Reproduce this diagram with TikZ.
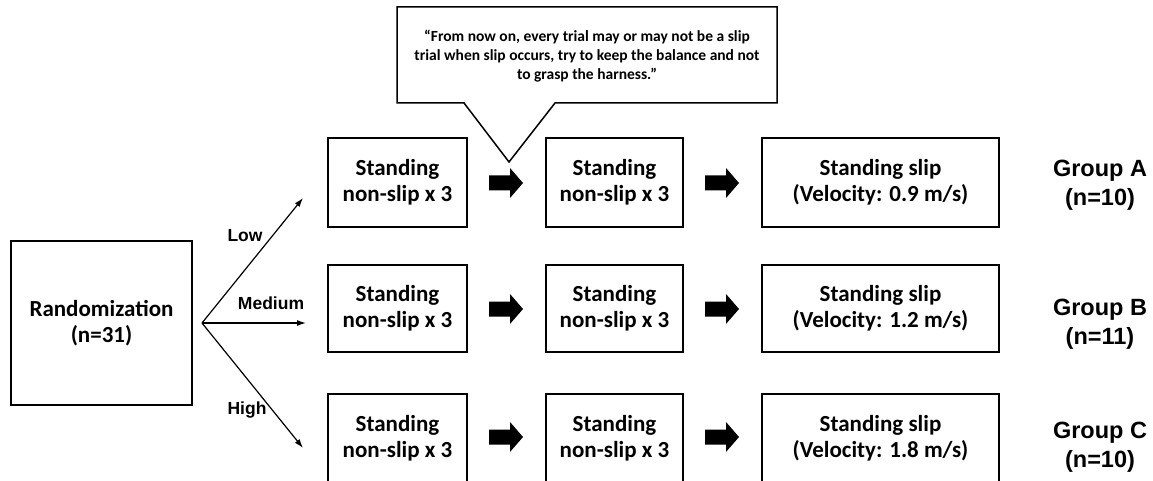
\documentclass[tikz,border=0pt]{standalone}
\usepackage{fontspec}
\setmainfont{Carlito}
\newfontfamily\arialfont{Liberation Sans}
\usetikzlibrary{arrows.meta}
\tikzset{
  box/.style={draw, line width=1.5pt, inner sep=0pt, align=center,
    font=\bfseries\fontsize{23}{26}\selectfont},
  lbl/.style={font=\arialfont\bfseries\fontsize{17.5}{20}\selectfont, inner sep=0pt},
  grp/.style={font=\arialfont\bfseries\fontsize{23.5}{29}\selectfont, align=center, inner sep=0pt},
  branch/.style={line width=1.2pt, -{Latex[length=9pt,width=6pt]}},
  barrow/.pic={\fill (-17,-7.5) -- (4,-7.5) -- (4,-15) -- (17,0) -- (4,15) -- (4,7.5) -- (-17,7.5) -- cycle;}
}
\begin{document}
\begin{tikzpicture}[x=1pt,y=-1pt]
\useasboundingbox (0,0) rectangle (1153,481);
% randomization
\node[box, minimum width=181pt, minimum height=164pt] (rand) at (101.5,323) {Randomization\\(n=31)};
\coordinate (bp) at (202,323);
\coordinate (eL) at (303,198);
\coordinate (eM) at (306,323);
\coordinate (eH) at (303,448);
\draw[branch] (bp) -- (eL);
\draw[branch] (bp) -- (eM);
\draw[branch] (bp) -- (eH);
\node[lbl] (low) at (245,236) {Low};
\node[lbl] (med) at (271,303) {Medium};
\node[lbl] (high) at (247,410) {High};
% column 1
\node[box, minimum width=139pt, minimum height=89pt] (a1) at (397.5,182.5) {Standing\\non-slip x 3};
\node[box, minimum width=139pt, minimum height=87pt] (b1) at (397.5,308.5) {Standing\\non-slip x 3};
\node[box, minimum width=139pt, minimum height=88pt] (c1) at (397.5,438) {Standing\\non-slip x 3};
% column 2
\node[box, minimum width=137pt, minimum height=89pt] (a2) at (614.5,182.5) {Standing\\non-slip x 3};
\node[box, minimum width=137pt, minimum height=87pt] (b2) at (614.5,308.5) {Standing\\non-slip x 3};
\node[box, minimum width=137pt, minimum height=88pt] (c2) at (614.5,438) {Standing\\non-slip x 3};
% column 3
\node[box, minimum width=237pt, minimum height=89pt] (a3) at (880.5,182.5) {Standing slip\\(Velocity: 0.9 m/s)};
\node[box, minimum width=237pt, minimum height=87pt] (b3) at (880.5,308.5) {Standing slip\\(Velocity: 1.2 m/s)};
\node[box, minimum width=237pt, minimum height=88pt] (c3) at (880.5,438) {Standing slip\\(Velocity: 1.8 m/s)};
% block arrows
\pic at (506,183) {barrow};
\pic at (722,183) {barrow};
\pic at (506,309) {barrow};
\pic at (722,309) {barrow};
\pic at (506,437) {barrow};
\pic at (722,437) {barrow};
% groups
\node[grp] (ga) at (1100,185) {Group A\\(n=10)};
\node[grp] (gb) at (1100,324) {Group B\\(n=11)};
\node[grp] (gc) at (1100,447.5) {Group C\\(n=10)};
% callout
\draw[line width=1.5pt, fill=white, line join=miter]
  (397,7) -- (777,7) -- (777,103) -- (555,103) -- (509,162) -- (464,103) -- (397,103) -- cycle;
\node[align=center, inner sep=0pt, font=\bfseries\fontsize{15.5}{19}\selectfont] (callout) at (587,56)
  {“From now on, every trial may or may not be a slip\\trial when slip occurs, try to keep the balance and not\\to grasp the harness.”};
\end{tikzpicture}
\end{document}
